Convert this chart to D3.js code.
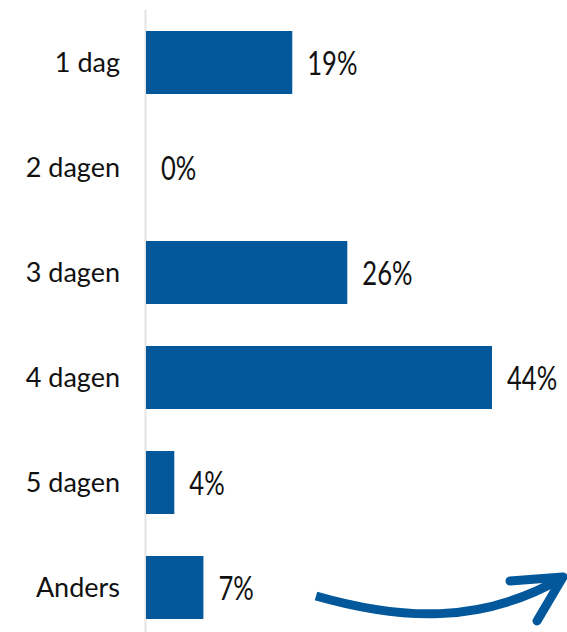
<!DOCTYPE html>
<html>
<head>
<meta charset="utf-8">
<script src="https://cdn.jsdelivr.net/npm/d3@7"></script>
<style>
  body { margin: 0; background: #fff; }
  svg { display: block; }
</style>
</head>
<body>
<script>
// data
var categories = ["1 dag", "2 dagen", "3 dagen", "4 dagen", "5 dagen", "Anders"];
var values = [18.6, 0, 25.6, 44, 3.6, 7.3];

var width = 567, height = 632;
var blue = "#02589b";

var svg = d3.select("body").append("svg")
    .attr("width", width)
    .attr("height", height);

// scales
var x = d3.scaleLinear()
    .domain([0, 44])
    .range([146, 492]);

var y = d3.scaleBand()
    .domain(categories)
    .range([10, 640])
    .paddingInner(0.4)
    .paddingOuter(0.2);

// axis line
svg.append("line")
    .attr("x1", 145.5).attr("x2", 145.5)
    .attr("y1", 10).attr("y2", height)
    .attr("stroke", "#e3e3e3")
    .attr("stroke-width", 2);

// bars
svg.selectAll(".bar")
    .data(values)
  .enter().append("rect")
    .attr("class", "bar")
    .attr("x", x(0))
    .attr("y", function(d, i) { return y(categories[i]); })
    .attr("width", function(d) { return x(d) - x(0); })
    .attr("height", y.bandwidth())
    .attr("fill", blue);

// category labels
svg.selectAll(".cat")
    .data(categories)
  .enter().append("text")
    .attr("class", "cat")
    .attr("x", 120)
    .attr("y", function(d) { return y(d) + y.bandwidth() / 2 + 9; })
    .attr("text-anchor", "end")
    .style("font-family", "Lato, 'Liberation Sans', sans-serif")
    .style("font-size", "27px")
    .style("fill", "#111")
    .text(function(d) { return d; });

// value labels (narrow look -> squeeze horizontally)
svg.selectAll(".val")
    .data(values)
  .enter().append("text")
    .attr("class", "val")
    .attr("transform", function(d, i) {
      return "translate(" + (x(d) + 15) + "," + (y(categories[i]) + y.bandwidth() / 2 + 12) + ") scale(0.8,1)";
    })
    .style("font-family", "Lato, 'Liberation Sans', sans-serif")
    .style("font-size", "32px")
    .style("fill", "#111")
    .text(function(d) { return Math.round(d) + "%"; });

// arrow
svg.append("path")
    .attr("d", "M316,596 C400,620 480,625 562,578")
    .attr("fill", "none")
    .attr("stroke", blue)
    .attr("stroke-width", 9);

svg.append("path")
    .attr("d", "M510,581 L563,577 L537,621")
    .attr("fill", "none")
    .attr("stroke", blue)
    .attr("stroke-width", 9)
    .attr("stroke-linecap", "round")
    .attr("stroke-linejoin", "round");
</script>
</body>
</html>
